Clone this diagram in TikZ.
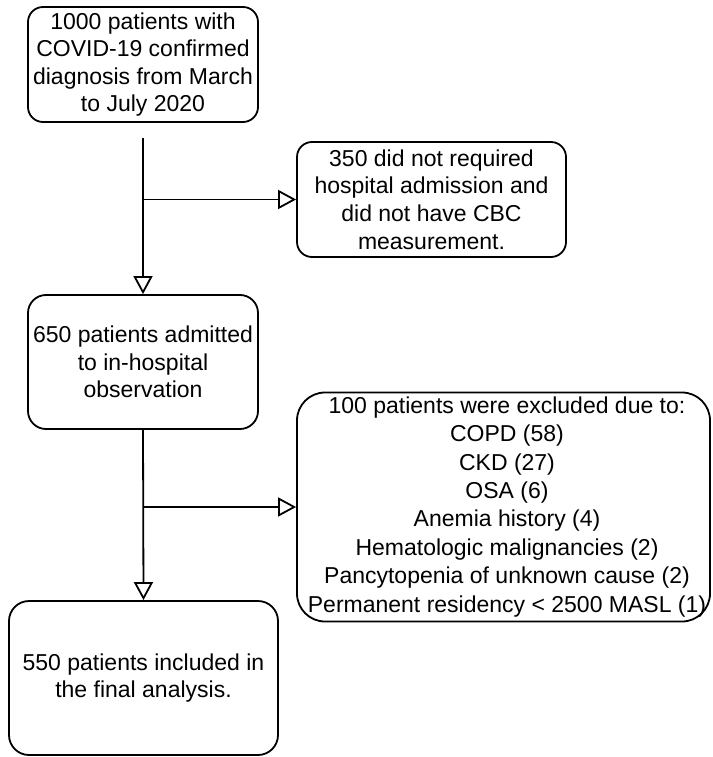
\documentclass[tikz,border=0pt]{standalone}
\usepackage{fontspec}
\setmainfont{Liberation Sans}
\usetikzlibrary{arrows.meta}
\begin{document}
\begin{tikzpicture}[x=1pt,y=-1pt,
  every node/.style={font=\fontsize{23}{27.6}\selectfont},
  box/.style={draw, line width=1.8pt, rectangle, align=center, inner sep=0pt},
  arr/.style={draw, line width=1.8pt, -{Triangle[open, length=18pt, width=19pt, line width=1.8pt]}}]
\useasboundingbox (0,0) rectangle (712,757);
\node[box, rounded corners=15pt, minimum width=230pt, minimum height=115pt] (b1) at (143,64.5)
  {1000 patients with\\COVID-19 confirmed\\diagnosis from March\\to July 2020};
\node[box, rounded corners=15pt, minimum width=269pt, minimum height=115pt] (b2) at (431.5,199.5)
  {350 did not required\\hospital admission and\\did not have CBC\\measurement.};
\node[box, rounded corners=18pt, minimum width=230pt, minimum height=134pt] (b3) at (143,362)
  {650 patients admitted\\to in-hospital\\observation};
\node[box, rounded corners=28pt, minimum width=413pt, minimum height=229pt, font=\fontsize{23}{28.4}\selectfont] (b4) at (503.5,507)
  {\begin{tabular}{@{\hspace{7pt}}c@{}}100 patients were excluded due to:\\COPD (58)\\CKD (27)\\ OSA (6)\\Anemia history (4)\\Hematologic malignancies (2)\\Pancytopenia of unknown cause (2)\\Permanent residency {<} 2500 MASL (1)\end{tabular}};
\node[box, rounded corners=20pt, minimum width=269pt, minimum height=154pt] (b5) at (143.5,678)
  {550 patients included in\\the final analysis.};
\coordinate (s1) at (143,138);
\coordinate (j1) at (143,199.5);
\coordinate (j2) at (143,507);
\draw[arr] (s1) -- (b3.north);
\draw[arr] (j1) -- (b2.west);
\draw[arr] (b3.south) -- (b5.north);
\draw[arr] (j2) -- (b4.west);
\end{tikzpicture}
\end{document}
